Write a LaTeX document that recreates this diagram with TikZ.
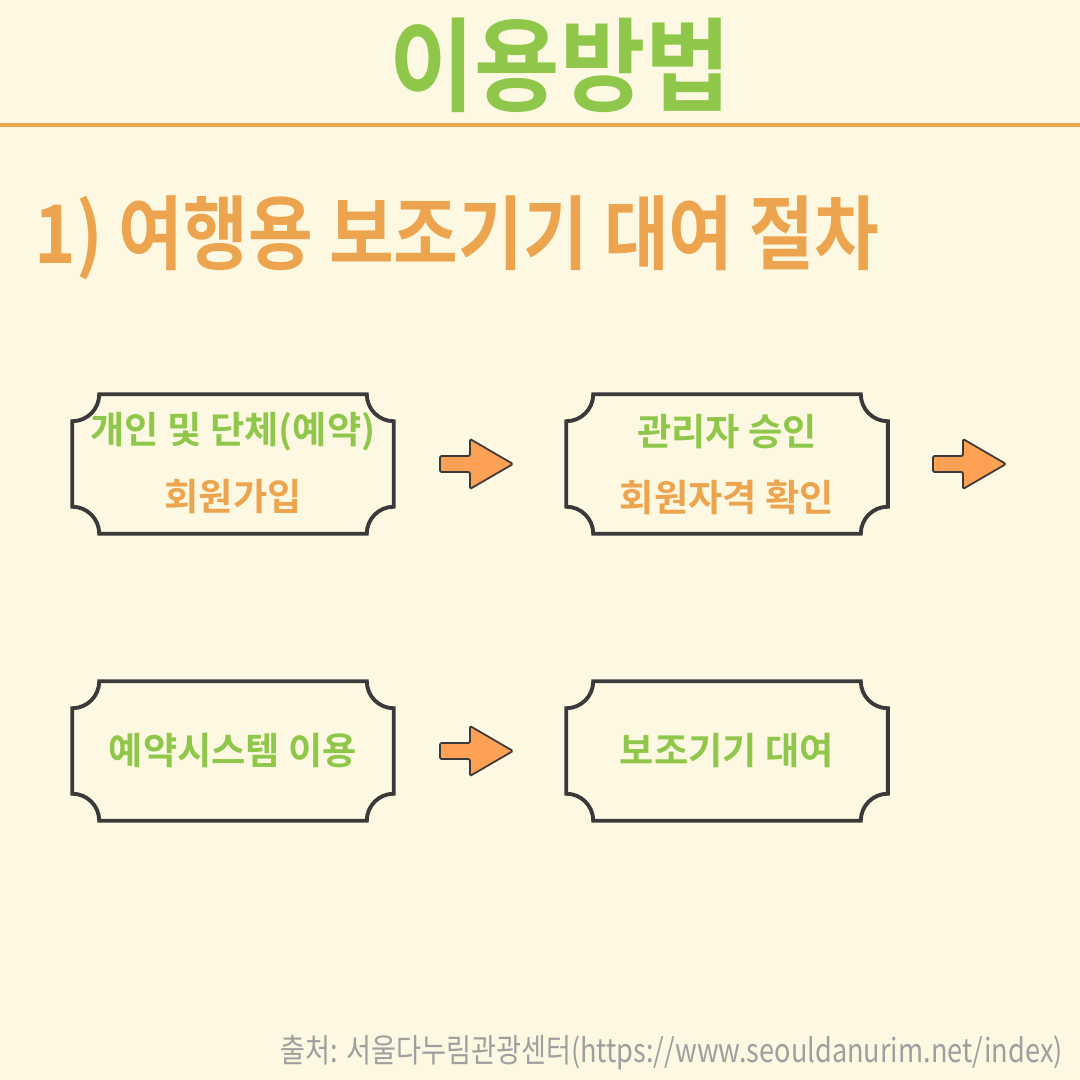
\documentclass[tikz,border=0pt]{standalone}
\usepackage{fontspec}
\setmainfont{Noto Sans CJK KR}[BoldFont={* Bold}]
\usetikzlibrary{positioning}
\definecolor{bgcream}{HTML}{FDF8E1}
\definecolor{leafgreen}{HTML}{8FC74A}
\definecolor{warmorange}{HTML}{EDA44F}
\definecolor{arroworange}{HTML}{FFA155}
\definecolor{inkgray}{HTML}{3A3A3A}
\newlength{\rr}
\setlength{\rr}{0.27cm}
\newcommand{\scallop}[1]{%
  \draw[ticket] ([xshift=\rr]#1.north west) -- ([xshift=-\rr]#1.north east)
    arc[start angle=180,end angle=270,radius=\rr] -- ([yshift=\rr]#1.south east)
    arc[start angle=90,end angle=180,radius=\rr] -- ([xshift=\rr]#1.south west)
    arc[start angle=0,end angle=90,radius=\rr] -- ([yshift=-\rr]#1.north west)
    arc[start angle=270,end angle=360,radius=\rr] -- cycle;}
\newcommand{\blockarrow}[2]{%
  \draw[flowarrow,shift={(#1,#2)}] (0,8) -- (30,8) -- (30,25) -- (73,0) -- (30,-25) -- (30,-8) -- (0,-8) -- cycle;}
\tikzset{
  ticket/.style={draw=inkgray, line width=1.1pt},
  stepnode/.style={minimum width=3.2cm, minimum height=1.38cm, inner sep=0pt},
  greentext/.style={text=leafgreen, font=\bfseries\fontsize{10.6}{12}\selectfont},
  orangetext/.style={text=warmorange, font=\bfseries\fontsize{10.6}{12}\selectfont},
  flowarrow/.style={draw=inkgray, fill=arroworange, line width=0.5pt, rounded corners=0.4pt}
}
\begin{document}
\begin{tikzpicture}[x=0.01cm,y=0.01cm]
  \fill[bgcream] (0,0) rectangle (1080,1080);
  \useasboundingbox (0,0) rectangle (1080,1080);
  % title
  \node[text=leafgreen, font=\bfseries\fontsize{29}{32}\selectfont, xscale=0.91] (title) at (560,1015) {이용방법};
  \draw[warmorange, line width=1pt] (0,955) -- (1080,955);
  \node[text=warmorange, font=\bfseries\fontsize{23}{26}\selectfont, anchor=west, xscale=0.87] (heading) at (24,842) {1) 여행용 보조기기 대여 절차};
  % steps
  \node[stepnode] (join) at (233,616) {};
  \node[stepnode] (approve) at (727,616) {};
  \node[stepnode] (book) at (233,329) {};
  \node[stepnode] (rent) at (727,329) {};
  \scallop{join}
  \scallop{approve}
  \scallop{book}
  \scallop{rent}
  \node[greentext] at (233,648) {개인 및 단체(예약)};
  \node[orangetext] at (233,583) {회원가입};
  \node[greentext] at (727,648) {관리자 승인};
  \node[orangetext] at (727,583) {회원자격 확인};
  \node[greentext] at (233,329) {예약시스템 이용};
  \node[greentext] at (727,329) {보조기기 대여};
  % arrows
  \blockarrow{440}{616}
  \blockarrow{933}{616}
  \blockarrow{440}{329}
  % source
  \node[text=gray!75, font=\fontsize{9.3}{11}\selectfont, anchor=east, xscale=0.83] (source) at (1073,27) {출처: 서울다누림관광센터(https://www.seouldanurim.net/index)};
\end{tikzpicture}
\end{document}
